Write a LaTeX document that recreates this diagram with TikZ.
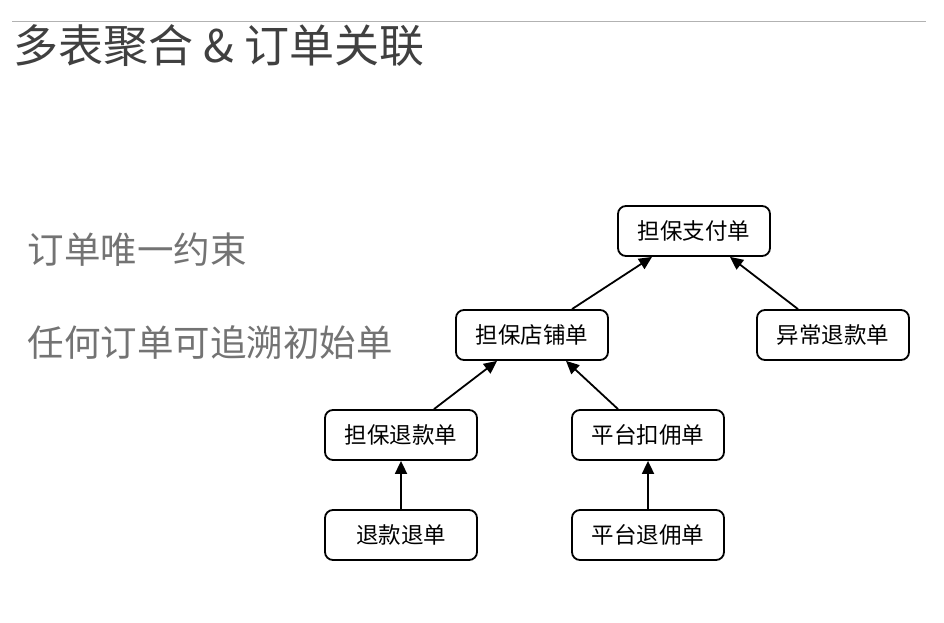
\documentclass[tikz,border=0pt]{standalone}
\usepackage{fontspec}
\newfontfamily\cjk{Noto Sans CJK SC}
\usetikzlibrary{arrows.meta,positioning}

\begin{document}
\begin{tikzpicture}[x=1pt,y=-1pt,
  box/.style={draw, line width=1.8pt, rounded corners=8pt, minimum width=152pt, minimum height=50pt, inner sep=0pt, font=\cjk\fontsize{22.5}{26}\selectfont},
  link/.style={line width=1.8pt, -{Triangle[length=13pt,width=12pt]}}]
\useasboundingbox (0,0) rectangle (944,623);
\draw[gray!60, line width=1pt] (12,22) -- (926,22);
\node[anchor=west, text=black!75, font=\cjk\fontsize{45}{48}\selectfont] (title) at (10,46) {多表聚合 \& 订单关联};
\node[anchor=west, text=black!55, font=\cjk\fontsize{36.5}{40}\selectfont] (rule1) at (24,250) {订单唯一约束};
\node[anchor=west, text=black!55, font=\cjk\fontsize{36.5}{40}\selectfont] (rule2) at (24,343) {任何订单可追溯初始单};

\node[box] (zfd) at (694,231) {担保支付单};
\node[box] (dpd) at (532,335) {担保店铺单};
\node[box] (ycd) at (833,335) {异常退款单};
\node[box] (tkd) at (401,435) {担保退款单};
\node[box] (kyd) at (648,435) {平台扣佣单};
\node[box] (ttd) at (401,535) {退款退单};
\node[box] (tyd) at (648,535) {平台退佣单};

\draw[link] ([xshift=40pt]dpd.north) -- ([xshift=-42pt]zfd.south);
\draw[link] ([xshift=-35pt]ycd.north) -- ([xshift=36pt]zfd.south);
\draw[link] ([xshift=33pt]tkd.north) -- ([xshift=-35pt]dpd.south);
\draw[link] ([xshift=-30pt]kyd.north) -- ([xshift=34pt]dpd.south);
\draw[link] (ttd) -- (tkd);
\draw[link] (tyd) -- (kyd);
\end{tikzpicture}
\end{document}
